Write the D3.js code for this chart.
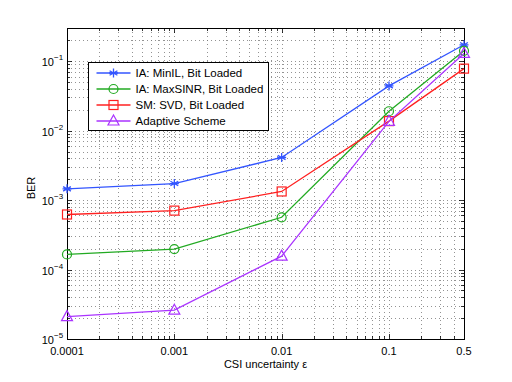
<!DOCTYPE html>
<html>
<head>
<meta charset="utf-8">
<script src="https://cdn.jsdelivr.net/npm/d3@7"></script>
<style>
  body { margin: 0; background: #fff; }
  svg { font-family: "Liberation Sans", Arial, sans-serif; }
</style>
</head>
<body>
<div id="chart"></div>
<script>
var xValues = [0.0001, 0.001, 0.01, 0.1, 0.5];
var xTickLabels = ["0.0001", "0.001", "0.01", "0.1", "0.5"];
var yTickExps = [-5, -4, -3, -2, -1];

var berMinIL = [1.45e-3, 1.73e-3, 4.1e-3, 0.044, 0.172];
var berMaxSINR = [1.65e-4, 1.97e-4, 5.65e-4, 0.019, 0.141];
var berSVD = [6.2e-4, 7.05e-4, 1.33e-3, 0.0137, 0.078];
var berAdaptive = [2.1e-5, 2.6e-5, 1.56e-4, 0.0136, 0.129];

var seriesNames = ["IA: MinIL, Bit Loaded", "IA: MaxSINR, Bit Loaded", "SM: SVD, Bit Loaded", "Adaptive Scheme"];
var seriesColors = ["#3355ff", "#22aa22", "#ff2020", "#aa33ff"];
var seriesMarkers = ["star", "circle", "square", "triangle"];

var series = [berMinIL, berMaxSINR, berSVD, berAdaptive].map(function(vals, k) {
    return {name: seriesNames[k], color: seriesColors[k], marker: seriesMarkers[k], values: vals};
});

var W = 512, H = 382,
    margins = {top: 28, right: 48, bottom: 43, left: 67},
    width = W - margins.left - margins.right,
    height = H - margins.top - margins.bottom;

var x = d3.scaleLog().domain([1e-4, 0.5]).range([0, width]);
var y = d3.scaleLog().domain([1e-5, 0.3]).range([height, 0]);

var svg = d3.select("#chart").append("svg")
    .attr("width", W).attr("height", H);
var g = svg.append("g").attr("transform", "translate(" + margins.left + "," + margins.top + ")");

// grid values: every major + minor tick inside the domain
function logTicks(domain) {
    var out = [];
    for (var e = -6; e <= 1; e++) {
        for (var m = 1; m <= 9; m++) {
            var v = m * Math.pow(10, e);
            if (v >= domain[0] * 0.9999 && v <= domain[1] * 1.0001) out.push(v);
        }
    }
    return out;
}
var xGrid = logTicks(x.domain());
var yGrid = logTicks(y.domain());

g.append("g").selectAll("line").data(xGrid).enter().append("line")
    .attr("x1", function(d) { return Math.round(x(d)) + 0.5; })
    .attr("x2", function(d) { return Math.round(x(d)) + 0.5; })
    .attr("y1", 0).attr("y2", height)
    .attr("stroke", "#777").attr("stroke-width", 0.8)
    .attr("stroke-dasharray", "1,3");

g.append("g").selectAll("line").data(yGrid).enter().append("line")
    .attr("y1", function(d) { return Math.round(y(d)) + 0.5; })
    .attr("y2", function(d) { return Math.round(y(d)) + 0.5; })
    .attr("x1", 0).attr("x2", width)
    .attr("stroke", "#777").attr("stroke-width", 0.8)
    .attr("stroke-dasharray", "1,3");

// ticks on all four sides, pointing inward
function isMajor(v) {
    var l = Math.log10(v);
    return Math.abs(l - Math.round(l)) < 1e-6;
}
var tickG = g.append("g").attr("stroke", "#000").attr("stroke-width", 0.8);
xGrid.forEach(function(v) {
    var len = (isMajor(v) || v === 0.5) ? 5 : 3;
    var px = Math.round(x(v)) + 0.5;
    tickG.append("line").attr("x1", px).attr("x2", px).attr("y1", height).attr("y2", height - len);
    tickG.append("line").attr("x1", px).attr("x2", px).attr("y1", 0).attr("y2", len);
});
yGrid.forEach(function(v) {
    var len = isMajor(v) ? 5 : 3;
    var py = Math.round(y(v)) + 0.5;
    tickG.append("line").attr("y1", py).attr("y2", py).attr("x1", 0).attr("x2", len);
    tickG.append("line").attr("y1", py).attr("y2", py).attr("x1", width).attr("x2", width - len);
});

g.append("rect").attr("x", 0.5).attr("y", 0.5).attr("width", width).attr("height", height)
    .attr("fill", "none").attr("stroke", "#000").attr("stroke-width", 1);

// x tick labels
g.append("g").selectAll("text").data(xValues).enter().append("text")
    .attr("x", function(d) { return x(d); })
    .attr("y", height + 16)
    .attr("text-anchor", "middle")
    .attr("font-size", 11)
    .text(function(d, i) { return xTickLabels[i]; });

// y tick labels 10^e
var ylG = g.append("g");
yTickExps.forEach(function(d) {
    var py = y(Math.pow(10, d));
    ylG.append("text")
        .attr("x", -13)
        .attr("y", py + 5)
        .attr("text-anchor", "end")
        .attr("font-size", 11)
        .text("10");
    ylG.append("text")
        .attr("x", -13)
        .attr("y", py - 1)
        .attr("font-size", 8)
        .text("\u2212" + Math.abs(d));
});

// axis titles
svg.append("text")
    .attr("x", margins.left + width / 2)
    .attr("y", 368)
    .attr("text-anchor", "middle")
    .attr("font-size", 11)
    .text("CSI uncertainty \u03b5");
svg.append("text")
    .attr("transform", "translate(35,188) rotate(-90)")
    .attr("text-anchor", "middle")
    .attr("font-size", 11)
    .text("BER");

// markers
function drawMarker(sel, type, color) {
    if (type === "circle") {
        sel.append("circle").attr("r", 4.5).attr("fill", "none").attr("stroke", color).attr("stroke-width", 1.2);
    } else if (type === "square") {
        sel.append("rect").attr("x", -4.5).attr("y", -4.5).attr("width", 9).attr("height", 9)
            .attr("fill", "none").attr("stroke", color).attr("stroke-width", 1.2);
    } else if (type === "triangle") {
        sel.append("path").attr("d", "M0,-6L5.5,4L-5.5,4Z")
            .attr("fill", "none").attr("stroke", color).attr("stroke-width", 1.2);
    } else if (type === "star") {
        sel.append("path").attr("d", "M0,-4.5V4.5M-3.9,-2.25L3.9,2.25M-3.9,2.25L3.9,-2.25M-4.5,0H4.5")
            .attr("fill", "none").attr("stroke", color).attr("stroke-width", 1.3);
    }
}

var line = d3.line()
    .x(function(d, i) { return x(xValues[i]); })
    .y(function(d) { return y(d); });

series.forEach(function(s) {
    g.append("path").datum(s.values)
        .attr("d", line)
        .attr("fill", "none")
        .attr("stroke", s.color)
        .attr("stroke-width", 1.3);
    g.selectAll(null).data(s.values).enter().append("g")
        .attr("transform", function(d, i) { return "translate(" + x(xValues[i]) + "," + y(d) + ")"; })
        .each(function() { drawMarker(d3.select(this), s.marker, s.color); });
});

// legend
var legend = svg.append("g").attr("transform", "translate(88.5,62.5)");
legend.append("rect").attr("width", 180).attr("height", 68)
    .attr("fill", "#fff").attr("stroke", "#000").attr("stroke-width", 1);
series.forEach(function(s, k) {
    var row = legend.append("g").attr("transform", "translate(0," + (10.5 + k * 16) + ")");
    row.append("line").attr("x1", 8).attr("x2", 42).attr("y1", 0).attr("y2", 0)
        .attr("stroke", s.color).attr("stroke-width", 1.3);
    drawMarker(row.append("g").attr("transform", "translate(25,0)"), s.marker, s.color);
    row.append("text").attr("x", 47).attr("y", 4).attr("font-size", 11.5).text(s.name);
});
</script>
</body>
</html>
